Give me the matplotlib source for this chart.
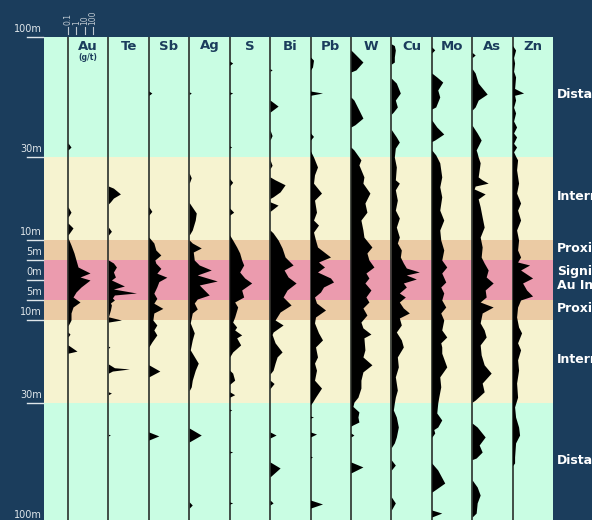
import numpy as np
import matplotlib
matplotlib.use('Agg')
import matplotlib.pyplot as plt
from matplotlib.transforms import blended_transform_factory

NAVY = '#1b3d5c'

ELEMENTS = ['Au', 'Te', 'Sb', 'Ag', 'S', 'Bi', 'Pb', 'W', 'Cu', 'Mo', 'As', 'Zn']

# depth labels (m from the intercept, + above / - below) and where they sit on the log-like axis
DEPTH_TICKS = [100, 30, 10, 5, 0, -5, -10, -30, -100]
M_KNOTS = [-100, -30, -10, -5, 0, 5, 10, 30, 100]
S_KNOTS = [-243, -123, -40, -20, 0, 20, 40, 123, 243]

ZONE_NAMES = ['Distal', 'Intermediate', 'Proximal', 'Significant\nAu Intercept',
              'Proximal', 'Intermediate', 'Distal']
ZONE_TOP = [100, 30, 10, 5, -5, -10, -30]
ZONE_BOT = [30, 10, 5, -5, -10, -30, -100]
ZONE_COLORS = ['#c9fde3', '#f6f3d0', '#ebcba4', '#eb9bae', '#ebcba4', '#f6f3d0', '#c9fde3']

AU_SCALE = [0.1, 1, 10, 100]  # g/t

# profiles: (depth m, signal) where signal 0-40 spans one column (Au: 8.3 per decade from 0.1 g/t)
AU = [(38.2, 0), (35.8, 3), (34.1, 0), (18.0, 0), (16.7, 3), (15.5, 0), (14.1, 0), (12.9, 5), (11.2, 0),
      (10.5, 0), (8.75, 3), (6.75, 6), (5, 8), (3.25, 10), (1.75, 22), (0.75, 12), (0, 22), (-1.75, 13),
      (-3, 8), (-4.25, 5), (-5.5, 12), (-6.75, 5), (-8.25, 3), (-10, 3), (-11.4, 0),
      (-12.9, 0), (-13.4, 2), (-14.1, 0), (-16.0, 0), (-17.5, 9), (-18.0, 0)]
TE = [(23.0, 0), (22.5, 5), (21.1, 12), (20.1, 5), (19.2, 2), (18.7, 0), (13.1, 0), (12.1, 3), (11.2, 0),
      (5, 0), (4.25, 5), (3.25, 8), (2, 5), (0.75, 7), (0, 3), (-1.5, 16), (-2.25, 5), (-3.25, 28),
      (-3.75, 6), (-4.5, 4), (-5, 6), (-5.75, 2), (-6.25, 3), (-7.5, 2), (-9.2, 0), (-10, 13), (-10.5, 0),
      (-16.3, 0), (-16.5, 1.5), (-16.8, 0), (-20.6, 0), (-21.5, 6), (-21.8, 21), (-22.3, 4), (-22.8, 0),
      (-27.3, 0), (-27.6, 3), (-28.0, 0), (-48.2, 0), (-48.7, 2), (-49.2, 0)]
SB = [(68.5, 0), (67.3, 3), (66.0, 0), (18.0, 0), (16.9, 3), (16.0, 0), (10.7, 0), (9.25, 5), (7.5, 7),
      (6.25, 12), (5, 6), (4.2, 7), (2.9, 12), (1.7, 8), (0.7, 18), (-0.4, 10), (-1.7, 8), (-3.3, 5),
      (-4.6, 8), (-5.8, 5), (-7.1, 14), (-8.25, 5), (-10, 4), (-11.2, 8), (-12.4, 5), (-13.6, 8),
      (-15.3, 3), (-16.5, 0), (-20.8, 0), (-22.3, 11), (-23.7, 0), (-46.9, 0), (-49.2, 10), (-51.6, 0)]
AG = [(68.0, 0), (67.3, 2), (66.5, 0), (26.1, 0), (25.0, 2), (23.7, 0), (19.0, 0), (16.5, 7), (14.8, 6),
      (12.4, 3), (11.2, 0), (10, 0), (9.25, 3), (8, 12), (7, 4), (5, 5), (3.75, 10), (2.5, 22), (1.25, 8),
      (-0.25, 28), (-1.25, 10), (-2.5, 15), (-3.75, 20), (-4.75, 8), (-5.75, 5), (-7.25, 8), (-8.25, 3),
      (-10.7, 1), (-13.1, 5), (-14.8, 3), (-17.2, 1), (-20.4, 9), (-22.1, 6), (-24.5, 3), (-26.1, 2),
      (-27.0, 0), (-44.6, 0), (-48.7, 12), (-52.7, 0), (-87.7, 0), (-89.5, 3), (-91.3, 0)]
S = [(86.0, 0), (84.8, 3), (83.5, 0), (68.0, 0), (67.3, 3), (66.5, 0), (36.5, 0), (35.8, 2), (35.2, 0),
     (24.8, 0), (23.9, 3), (23.0, 0), (17.7, 0), (16.7, 4), (16.0, 0), (11.2, 0), (10, 3), (8.25, 7),
     (6.75, 10), (5, 12), (3.75, 14), (2, 10), (0.5, 15), (-0.75, 22), (-2.5, 12), (-4.25, 14),
     (-5.5, 5), (-6.75, 8), (-9.25, 5), (-10.5, 3), (-11.7, 7), (-12.4, 5), (-13.6, 12), (-14.3, 7),
     (-16, 11), (-17.7, 3), (-18.9, 0), (-22.1, 0), (-22.8, 3), (-24.5, 5), (-25.5, 0),
     (-27.3, 0), (-28.0, 5), (-28.6, 0), (-33.5, 0), (-34.1, 2), (-34.7, 0), (-58.0, 0), (-58.6, 3),
     (-59.2, 0), (-87.7, 0), (-88.3, 3), (-89.0, 0)]
BI = [(81.5, 0), (80.8, 2), (80.0, 0), (63.2, 0), (59.7, 8), (56.2, 0), (45.7, 0), (42.5, 2), (39.9, 0),
      (29.3, 0), (28.0, 2), (27.2, 0), (25.2, 0), (24.5, 5), (23.3, 15), (21.6, 10), (20.4, 3), (20.0, 0),
      (19.2, 0), (18.4, 8), (16.9, 0), (12.4, 0), (11.7, 3), (10, 8), (8, 12), (5.75, 15), (3.75, 23),
      (2.5, 14), (0.75, 18), (-0.75, 26), (-2.5, 17), (-4.25, 13), (-6.25, 21), (-8, 10), (-10, 5),
      (-11.2, 13), (-12.9, 3), (-13.5, 2), (-15.5, 5), (-17.7, 12), (-18.9, 7), (-20.4, 5), (-22.1, 3),
      (-23.0, 0), (-24.5, 0), (-25.3, 4), (-26.5, 0), (-46.9, 0), (-48.7, 6), (-50.4, 0),
      (-64.4, 0), (-67.9, 10), (-73.1, 0), (-86.6, 0), (-88.3, 3), (-89.5, 0)]
PB = [(88.3, 0), (86.5, 3), (82.5, 2), (80.8, 0), (68.5, 0), (67.3, 12), (66.0, 0), (44.0, 0), (42.0, 3),
      (39.9, 0), (33.5, 0), (30, 3), (27.6, 7), (25.7, 4), (23.7, 3), (21.3, 11), (19.6, 4), (16.7, 6),
      (14.8, 3), (13.6, 8), (11.9, 3), (10, 5), (8.25, 7), (5.75, 20), (4.5, 8), (3.25, 14), (2, 7),
      (0.5, 20), (-0.5, 23), (-1.75, 13), (-3, 10), (-4.25, 4), (-5.75, 6), (-7.5, 15), (-9.25, 5),
      (-10.7, 4), (-13.1, 8), (-14.8, 12), (-16.5, 5), (-18.9, 7), (-20.4, 4), (-22.1, 6), (-24.5, 4),
      (-26.4, 11), (-28.6, 5), (-29.8, 2), (-31.0, 0), (-37.6, 0), (-38.2, 3), (-38.8, 0),
      (-46.9, 0), (-48.1, 6), (-49.8, 0), (-61.0, 0), (-61.5, 2), (-62.1, 0), (-86.6, 0), (-88.9, 12),
      (-91.3, 0)]
W = [(92.4, 0), (90.7, 3), (85.4, 12), (80.8, 5), (79.6, 0), (65.0, 0), (63.2, 3), (57.4, 8), (52.7, 12),
     (48.8, 4), (47.5, 0), (35.8, 0), (34.1, 3), (30, 8), (29.3, 10), (28.1, 8), (25.2, 13), (23.7, 12),
     (21.3, 19), (18.9, 14), (16.7, 16), (14.8, 10), (12.4, 12), (10.7, 13), (8.25, 21), (6.75, 16),
     (5, 18), (3.25, 23), (1.75, 15), (0.5, 18), (-0.75, 14), (-2.5, 20), (-4.25, 15), (-5.5, 18),
     (-7, 12), (-8.75, 16), (-10.5, 10), (-11.9, 12), (-13.4, 20), (-14.3, 13), (-17.2, 14), (-18.9, 12),
     (-20.8, 21), (-22.5, 12), (-24.5, 10), (-26.4, 10), (-28.6, 7), (-29.8, 3), (-32.0, 2), (-35.2, 8),
     (-38.2, 7), (-41.1, 8), (-42.8, 2), (-43.5, 0), (-47.5, 0), (-48.7, 3), (-49.8, 0),
     (-64.4, 0), (-67.3, 12), (-70.8, 0)]
CU = [(96, 0), (95, 3), (92.4, 4), (88.3, 3), (85.4, 3), (84.2, 0), (76, 0), (73.1, 5), (67.3, 9),
      (63.2, 4), (59.2, 6), (56.2, 2), (55, 0), (46, 0), (41.7, 5), (38.7, 8), (35.2, 4), (30, 3),
      (27.6, 5), (24.5, 4), (23.7, 8), (22.1, 4), (19.6, 6), (17.2, 4), (15.3, 8), (13.1, 5), (10.7, 8),
      (9.25, 6), (7.5, 10), (5.75, 9), (4.25, 12), (3, 15), (2, 28), (1.25, 15), (0.25, 25), (-0.75, 12),
      (-1.75, 15), (-3.25, 8), (-4.25, 14), (-5.5, 8), (-7, 12), (-8.25, 18), (-9.5, 8), (-11.2, 10),
      (-12.9, 5), (-14.8, 10), (-16.5, 12), (-18.9, 6), (-21.3, 7), (-23.7, 4), (-26.9, 6), (-28.6, 4),
      (-30, 3), (-34.1, 2), (-38.2, 5), (-44, 7), (-49.8, 5), (-53.3, 3), (-56, 0),
      (-63.2, 0), (-66.2, 4), (-69.1, 0), (-84.8, 0), (-88.3, 4), (-92.4, 0)]
MO = [(94.2, 0), (92.5, 3), (90.7, 0), (79, 0), (76.7, 5), (73.7, 11), (69.1, 6), (65, 8), (59.2, 4),
      (58, 0), (51.6, 0), (47.5, 5), (43.4, 12), (39.9, 3), (39, 0), (34.1, 0), (31.2, 4), (28.6, 8),
      (25.2, 10), (22.8, 8), (20.4, 10), (17.2, 8), (14.8, 12), (12.4, 8), (10, 9), (7.5, 12), (5, 10),
      (3.25, 15), (1.75, 10), (-0.5, 14), (-1.75, 9), (-3.25, 12), (-5, 10), (-6.75, 14), (-8.25, 9),
      (-10, 12), (-12.4, 10), (-14.1, 15), (-15.5, 9), (-16.5, 10), (-18, 10), (-21.3, 15), (-23.7, 8),
      (-26.1, 9), (-28.6, 7), (-30, 6), (-35.8, 5), (-39.9, 10), (-44, 6), (-45.5, 2), (-47.5, 3),
      (-50, 0), (-65, 0), (-69.1, 6), (-76.7, 13), (-80.8, 3), (-82, 0), (-92.4, 0), (-94.2, 10),
      (-96.5, 0)]
AS = [(91, 0), (89.5, 3), (88, 0), (81.5, 0), (79, 3), (73.1, 6), (66.7, 15), (63.2, 6), (59.2, 3),
      (57.4, 0), (48.5, 0), (44, 5), (39.9, 9), (34.1, 4), (32.3, 5), (30, 6), (28.6, 8), (25.2, 6),
      (24.5, 10), (23.7, 16), (23, 3), (22.3, 2), (21.1, 13), (19.9, 6), (18, 8), (15.5, 10), (13.1, 12),
      (10.7, 8), (8.25, 10), (5.75, 9), (4.25, 12), (2.5, 16), (0.75, 14), (-0.75, 21), (-2.5, 13),
      (-4.25, 14), (-5.5, 8), (-6.75, 21), (-8.25, 10), (-10.7, 8), (-12.4, 12), (-14.1, 14), (-16, 8),
      (-18.4, 9), (-20.8, 12), (-22.8, 19), (-25.2, 10), (-27.3, 12), (-29.3, 3), (-29.8, 0),
      (-41.7, 0), (-44, 5), (-49.8, 13), (-54.5, 7), (-58.6, 10), (-62.1, 4), (-63, 0),
      (-74.9, 0), (-79, 5), (-83.7, 8), (-88.3, 5), (-94.2, 4), (-96.5, 0)]
ZN = [(95, 0), (92.4, 3), (88, 1), (84.8, 2), (80, 1), (76.7, 3), (70, 2), (67.3, 11), (66, 2), (63.2, 3),
      (59, 1), (55.7, 3), (51, 1), (47.5, 4), (44, 1), (41.7, 4), (38, 1), (35.8, 4), (33, 1), (30.5, 3),
      (29.3, 5), (26.9, 4), (23.7, 6), (21.3, 4), (18.9, 8), (17.2, 5), (14.8, 8), (12.4, 4), (10, 6),
      (7.5, 5), (5.75, 8), (4.5, 5), (3.75, 17), (2.5, 8), (0.5, 20), (-0.75, 10), (-2.5, 14), (-4, 20),
      (-5, 8), (-6.75, 5), (-9.25, 4), (-11.7, 6), (-13.1, 9), (-15.5, 5), (-17.2, 8), (-19.6, 5),
      (-22.1, 6), (-25.2, 4), (-28.6, 5), (-32.3, 2), (-38.2, 3), (-44, 6), (-48.7, 7), (-53.3, 3),
      (-61.5, 2), (-65, 2), (-66.5, 0)]

PROFILES = [AU, TE, SB, AG, S, BI, PB, W, CU, MO, AS, ZN]
COL_UNITS = 40.4
AU_PER_DECADE = 8.3


def ypos(m):
    return np.interp(m, M_KNOTS, S_KNOTS)


fig = plt.figure(figsize=(5.92, 5.2), dpi=100)
fig.patch.set_facecolor(NAVY)
ax = fig.add_axes([44 / 592, 0, (553 - 44) / 592, (520 - 37) / 520])
ax.set_xlim(-24 / COL_UNITS, 12)
ax.set_ylim(-240, 243)
ax.axis('off')

for top, bot, c in zip(ZONE_TOP, ZONE_BOT, ZONE_COLORS):
    ax.axhspan(ypos(bot), ypos(top), color=c, lw=0, zorder=0)

for i, (name, prof) in enumerate(zip(ELEMENTS, PROFILES)):
    ax.axvline(i, color='#2a302c', lw=1.2, zorder=2)
    m = np.array([p[0] for p in prof])
    w = np.array([p[1] for p in prof])
    ax.fill_betweenx(ypos(m), i, i + w / COL_UNITS, color='black', lw=0, zorder=3)
    ax.text(i + 0.5, 234, name, ha='center', va='center', fontsize=9.5,
            fontweight='bold', color=NAVY, zorder=4)
ax.text(0.5, 222, '(g/t)', ha='center', va='center', fontsize=5.5,
        fontweight='bold', color=NAVY, zorder=4)

# zone labels on the right (cut by the figure edge, as in the original)
for name, top, bot in zip(ZONE_NAMES, ZONE_TOP, ZONE_BOT):
    ax.text(12.1, (ypos(top) + ypos(bot)) / 2 + 2, name, ha='left', va='center',
            fontsize=9, fontweight='bold', color='white', clip_on=False, linespacing=1.1)

# depth ticks on the left
tr = blended_transform_factory(fig.transFigure, ax.transData)
for d in DEPTH_TICKS:
    y = ypos(d)
    ax.plot([27 / 592, 43 / 592], [y, y], color='#dfe6ea', lw=1, transform=tr, clip_on=False)
    ax.text(42 / 592, y + 3, '%dm' % abs(d), ha='right', va='bottom', fontsize=7,
            color='#dfe6ea', transform=tr, clip_on=False)

# Au scale above the first column
tr2 = blended_transform_factory(ax.transData, fig.transFigure)
for v in AU_SCALE:
    x = np.log10(v / AU_SCALE[0]) * AU_PER_DECADE / COL_UNITS
    ax.plot([x, x], [1 - 34 / 520, 1 - 27 / 520], color='#c0cad2', lw=0.8,
            transform=tr2, clip_on=False)
    ax.text(x, 1 - 25 / 520, ('%g' % v), rotation=90, ha='center', va='bottom',
            fontsize=5.5, color='#c0cad2', transform=tr2, clip_on=False)

fig.savefig('out.png', dpi=100, facecolor=NAVY)
